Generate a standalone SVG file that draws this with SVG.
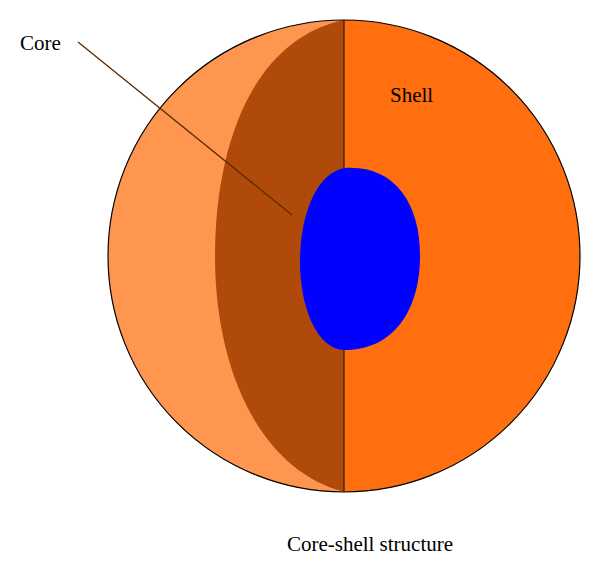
<svg xmlns="http://www.w3.org/2000/svg" width="600" height="570" viewBox="0 0 600 570">
<style>
text{font-family:"Liberation Serif",serif;font-size:21px;fill:#000}
.ol{stroke:#000;stroke-width:1.2}
</style>
<rect width="600" height="570" fill="#fff"/>
<g id="sphere">
<path d="M344,20 A236,236 0 0 0 344,492 Z" fill="#FF9650"/>
<path d="M344,20 A236,236 0 0 1 344,492 Z" fill="#FF6F0F"/>
<path d="M344,20 C250,40 215,150 215,256 C215,370 260,470 344,492 Z" fill="#B04A0A"/>
<circle cx="344" cy="256" r="236" fill="none" class="ol"/>
<line x1="344" y1="20" x2="344" y2="492" stroke="#3a1a00" stroke-width="1.2"/>
</g>
<g id="core">
<path d="M345,168 C392,165 420,200 420,256 C420,312 392,350 345,350 C316,350 300,305 300,262 C300,212 318,172 345,168 Z" fill="#0000FF"/>
</g>
<g id="connectors">
<line x1="78" y1="42" x2="292" y2="215" stroke="#5a2a00" stroke-width="1.3"/>
</g>
<g id="labels">
<text x="20" y="50">Core</text>
<text x="390" y="102">Shell</text>
<text x="370" y="551" text-anchor="middle">Core-shell structure</text>
</g>
</svg>
